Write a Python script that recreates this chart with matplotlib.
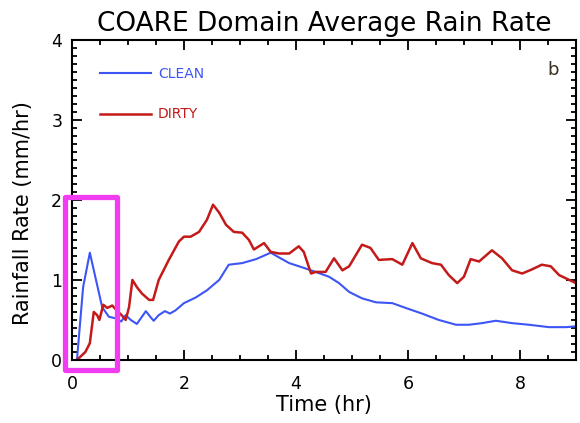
import numpy as np
import matplotlib.pyplot as plt
from matplotlib.patches import Rectangle
from matplotlib.ticker import MultipleLocator

# CLEAN run
clean_t = [0.09, 0.2, 0.32, 0.43, 0.54, 0.66, 0.78, 0.88, 0.96, 1.05, 1.16, 1.25,
           1.32, 1.41, 1.46, 1.55, 1.66, 1.75, 1.85, 2.0, 2.21, 2.41, 2.63, 2.8,
           3.04, 3.29, 3.55, 3.7, 3.88, 4.1, 4.35, 4.59, 4.77, 4.95, 5.18, 5.43,
           5.72, 5.96, 6.25, 6.55, 6.86, 7.09, 7.32, 7.57, 7.86, 8.16, 8.52, 8.82, 9.0]
clean_rate = [0.0, 0.91, 1.34, 1.0, 0.66, 0.54, 0.52, 0.48, 0.56, 0.5, 0.45, 0.54,
              0.61, 0.53, 0.49, 0.56, 0.61, 0.58, 0.62, 0.71, 0.78, 0.87, 1.0, 1.19,
              1.21, 1.26, 1.34, 1.28, 1.21, 1.16, 1.1, 1.04, 0.96, 0.85, 0.77, 0.72,
              0.71, 0.65, 0.58, 0.5, 0.44, 0.44, 0.46, 0.49, 0.46, 0.44, 0.41, 0.41, 0.42]

# DIRTY run
dirty_t = [0.09, 0.18, 0.24, 0.32, 0.39, 0.45, 0.49, 0.56, 0.63, 0.72, 0.8, 0.9,
           0.96, 1.02, 1.08, 1.16, 1.25, 1.38, 1.45, 1.55, 1.73, 1.91, 2.0, 2.12,
           2.27, 2.41, 2.52, 2.63, 2.75, 2.89, 3.04, 3.16, 3.25, 3.43, 3.55, 3.7,
           3.88, 4.05, 4.14, 4.27, 4.35, 4.53, 4.68, 4.83, 4.95, 5.18, 5.33, 5.48,
           5.72, 5.9, 6.08, 6.23, 6.43, 6.59, 6.73, 6.88, 7.0, 7.12, 7.27, 7.5,
           7.68, 7.86, 8.04, 8.21, 8.39, 8.55, 8.7, 8.88, 9.0]
dirty_rate = [0.0, 0.06, 0.1, 0.21, 0.6, 0.56, 0.5, 0.69, 0.65, 0.68, 0.62, 0.55,
              0.5, 0.66, 1.0, 0.91, 0.83, 0.75, 0.75, 1.0, 1.25, 1.48, 1.54, 1.54,
              1.6, 1.75, 1.94, 1.84, 1.69, 1.6, 1.59, 1.5, 1.38, 1.46, 1.35, 1.33,
              1.33, 1.42, 1.35, 1.08, 1.1, 1.1, 1.27, 1.12, 1.17, 1.44, 1.4, 1.25,
              1.26, 1.19, 1.46, 1.27, 1.21, 1.19, 1.06, 0.96, 1.04, 1.26, 1.23, 1.37,
              1.27, 1.12, 1.08, 1.13, 1.19, 1.17, 1.06, 1.0, 0.96]

blue = '#3d55f5'
red = '#c41a1a'

fig = plt.figure(figsize=(5.8, 4.23), dpi=100)
ax = fig.add_axes([0.124, 0.149, 0.869, 0.757])

ax.plot(clean_t, clean_rate, color=blue, lw=1.5, label='CLEAN')
ax.plot(dirty_t, dirty_rate, color=red, lw=1.8, label='DIRTY')

ax.set_xlim(0, 9)
ax.set_ylim(0, 4)
ax.xaxis.set_major_locator(MultipleLocator(2))
ax.xaxis.set_minor_locator(MultipleLocator(0.5))
ax.yaxis.set_major_locator(MultipleLocator(1))
ax.yaxis.set_minor_locator(MultipleLocator(0.1))
ax.tick_params(which='both', direction='in', top=True, right=True, width=1.3)
ax.tick_params(which='major', length=7, labelsize=12.5)
ax.tick_params(axis='x', which='major', pad=11)
ax.tick_params(axis='y', which='major', pad=7)
ax.tick_params(which='minor', length=3.5)
for s in ax.spines.values():
    s.set_linewidth(1.5)

ax.set_xlabel('Time (hr)', fontsize=15, labelpad=1)
ax.set_ylabel('Rainfall Rate (mm/hr)', fontsize=15)
ax.yaxis.set_label_coords(-0.077, 0.46)
ax.set_title('COARE Domain Average Rain Rate', fontsize=19, pad=6)

leg = ax.legend(loc='upper left', bbox_to_anchor=(0.055, 0.915), frameon=False,
                fontsize=10, handlelength=3.7, handletextpad=0.5,
                labelspacing=1.9, borderpad=0, borderaxespad=0)
for txt, line in zip(leg.get_texts(), leg.get_lines()):
    txt.set_color(line.get_color())

ax.text(0.955, 0.905, 'b', transform=ax.transAxes, fontsize=13, color='#3a3020',
        ha='center', va='center')

# highlight box around the first hour
ax.add_patch(Rectangle((-0.12, -0.12), 0.92, 2.16, fill=False, edgecolor='#f23cf2',
                       lw=3.8, joinstyle='round', clip_on=False, zorder=5))

fig.savefig('out.png', dpi=100)
